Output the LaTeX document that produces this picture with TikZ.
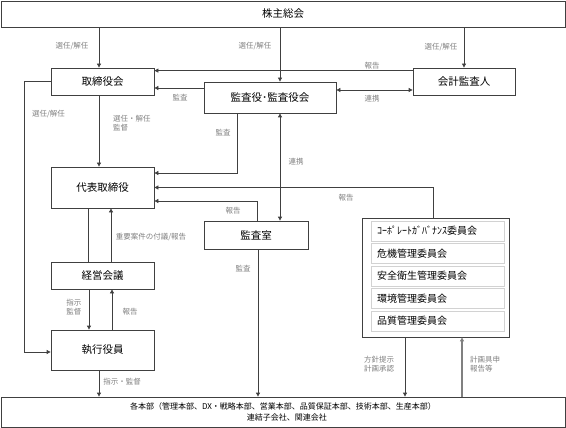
\documentclass[tikz,border=0pt]{standalone}
\usepackage{fontspec}
\setmainfont{Noto Sans CJK JP}
\usetikzlibrary{arrows.meta}
\definecolor{linegray}{HTML}{404040}
\definecolor{labelgray}{HTML}{808080}
\tikzset{
  box/.style={draw=linegray, line width=0.8pt, fill=white, inner sep=0pt,
    font=\fontsize{10.5}{12}\selectfont},
  subbox/.style={draw=gray!35, line width=1pt, fill=white, inner sep=0pt,
    minimum width=133pt, minimum height=20pt, text width=121pt, align=left,
    font=\fontsize{10}{12}\selectfont},
  lbl/.style={text=labelgray, inner sep=0pt, align=left,
    font=\fontsize{7.5}{9.5}\selectfont},
  conn/.style={draw=linegray, line width=0.8pt},
  arr/.style={conn, -{Triangle[length=4pt,width=4pt]}},
  dblarr/.style={conn, {Triangle[length=4pt,width=4pt]}-{Triangle[length=4pt,width=4pt]}}
}
\begin{document}
\begin{tikzpicture}[x=1pt, y=-1pt]
  \useasboundingbox (0,0) rectangle (566,428);
  % boxes
  \node[box, minimum width=564pt, minimum height=26pt] (kabu) at (283,14) {株主総会};
  \node[box, minimum width=103pt, minimum height=27pt] (torishimari) at (102.5,81.5) {取締役会};
  \node[box, minimum width=132pt, minimum height=31pt] (kansayaku) at (270,97.5) {監査役･監査役会};
  \node[box, minimum width=102pt, minimum height=27pt] (kaikei) at (464,81.5) {会計監査人};
  \node[box, minimum width=103pt, minimum height=41pt] (daihyo) at (102.5,187.5) {代表取締役};
  \node[box, minimum width=104pt, minimum height=28pt] (kansashitsu) at (256,235) {監査室};
  \node[box, minimum width=103pt, minimum height=27pt] (keiei) at (102.5,275.5) {経営会議};
  \node[box, minimum width=103pt, minimum height=40pt] (shikko) at (102.5,350) {執行役員};
  \node[box, minimum width=564pt, minimum height=30pt, align=center,
    font=\fontsize{8}{11.5}\selectfont] (honbu) at (283,412)
    {各本部（管理本部、DX・戦略本部、営業本部、品質保証本部、技術本部、生産本部）\\\hspace*{8pt}連結子会社、関連会社};
  \node[box, minimum width=147pt, minimum height=119pt] (iinkai) at (435.5,277.5) {};
  \node[subbox] (c1) at (437.5,231) {ｺｰﾎﾟﾚｰﾄｶﾞﾊﾞﾅﾝｽ委員会};
  \node[subbox] (c2) at (437.5,253.5) {危機管理委員会};
  \node[subbox] (c3) at (437.5,276) {安全衛生管理委員会};
  \node[subbox] (c4) at (437.5,298.5) {環境管理委員会};
  \node[subbox] (c5) at (437.5,321) {品質管理委員会};
  % connectors
  \draw[arr] ([xshift=-3.5pt]torishimari.north |- kabu.south) -- ([xshift=-3.5pt]torishimari.north);
  \draw[arr] ([xshift=10pt]kansayaku.north |- kabu.south) -- ([xshift=10pt]kansayaku.north);
  \draw[arr] (kaikei.north |- kabu.south) -- (kaikei.north);
  \draw[arr] ([yshift=-3pt]kaikei.north west) -- ([yshift=-3pt]kaikei.north west -| torishimari.east);
  \draw[arr] ([yshift=9.5pt]kansayaku.west) -- ([yshift=9.5pt]kansayaku.west -| torishimari.east);
  \draw[dblarr] ([yshift=7.5pt]kansayaku.east) -- ([yshift=7.5pt]kansayaku.east -| kaikei.west);
  \draw[arr] ([xshift=-3.5pt]torishimari.south) -- ([xshift=-3.5pt]daihyo.north);
  \draw[arr] ([xshift=-33pt]kansayaku.south) |- ([yshift=14.5pt]daihyo.east);
  \draw[dblarr] ([xshift=10pt]kansayaku.south) -- ([xshift=10pt]kansayaku.south |- kansashitsu.north);
  \draw[arr] ([xshift=-2.5pt]iinkai.north) |- (daihyo.east);
  \draw[arr] ([xshift=1pt]kansashitsu.north) |- ([yshift=-13.5pt]daihyo.east);
  \draw[arr] ([xshift=2pt]kansashitsu.south) -- ([xshift=2pt]kansashitsu.south |- honbu.north);
  \draw[conn] ([xshift=-14.5pt]daihyo.south) -- ([xshift=-14.5pt]keiei.north);
  \draw[arr] ([xshift=8.5pt]keiei.north) -- ([xshift=8.5pt]daihyo.south);
  \draw[arr] ([xshift=-13.5pt]keiei.south) -- ([xshift=-13.5pt]shikko.north);
  \draw[arr] ([xshift=9.5pt]shikko.north) -- ([xshift=9.5pt]keiei.south);
  \draw[arr] (torishimari.west) -- ++(-26,0) |- ([yshift=-2pt]shikko.west);
  \draw[arr] ([xshift=-3.5pt]shikko.south) -- ([xshift=-3.5pt]shikko.south |- honbu.north);
  \draw[arr] ([xshift=-30.5pt]iinkai.south) -- ([xshift=-30.5pt]iinkai.south |- honbu.north);
  \draw[conn, draw=gray, line width=1.3pt, -{Triangle[length=4pt,width=4pt]}]
    ([xshift=26.5pt]iinkai.south |- honbu.north) -- ([xshift=26.5pt]iinkai.south);
  % labels
  \node[lbl] (l1) at (72,46) {選任/解任};
  \node[lbl] (l2) at (255,46) {選任/解任};
  \node[lbl] (l3) at (441,47) {選任/解任};
  \node[lbl] (l4) at (372,66) {報告};
  \node[lbl] (l5) at (180,98) {監査};
  \node[lbl] (l6) at (372,99) {連携};
  \node[lbl, anchor=west] (l7) at (113,123) {選任・解任\\監督};
  \node[lbl] (l8) at (48.5,114) {選任/解任};
  \node[lbl] (l9) at (223,133) {監査};
  \node[lbl] (l10) at (296,162) {連携};
  \node[lbl] (l11) at (346,198) {報告};
  \node[lbl] (l12) at (233,211) {報告};
  \node[lbl] (l13) at (151,237) {重要案件の付議/報告};
  \node[lbl] (l14) at (243,269) {監査};
  \node[lbl] (l15) at (74,307) {指示\\監督};
  \node[lbl] (l16) at (130,312) {報告};
  \node[lbl] (l17) at (122,382) {指示・監督};
  \node[lbl] (l18) at (379,364) {方針提示\\計画承認};
  \node[lbl, anchor=west] (l19) at (470,364) {計画具申\\報告等};
\end{tikzpicture}
\end{document}
